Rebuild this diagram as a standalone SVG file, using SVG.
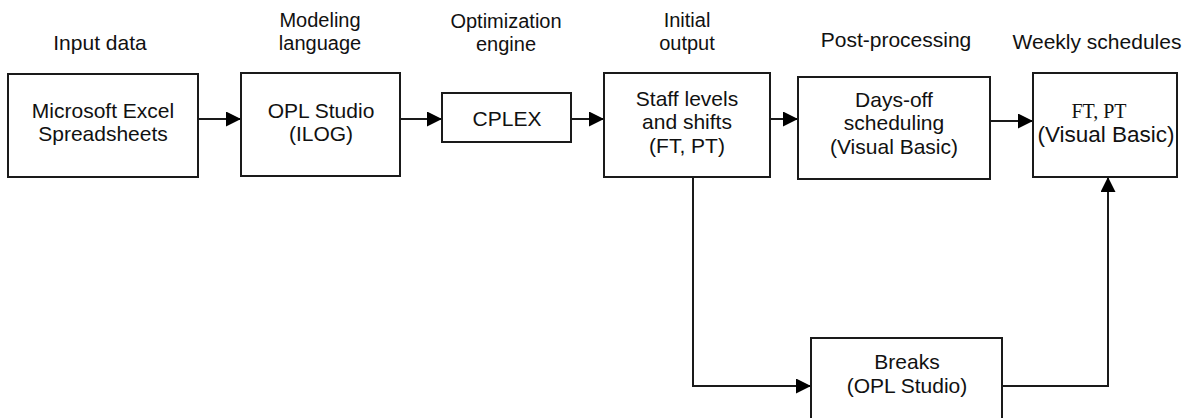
<svg xmlns="http://www.w3.org/2000/svg" width="1194" height="418" viewBox="0 0 1194 418">
<defs>
<style>
.box{fill:#fff;stroke:#1a1a1a;stroke-width:2}
.t{font-family:"Liberation Sans",Arial,sans-serif;font-size:21px;fill:#111;text-anchor:middle}
.t2{font-family:"Liberation Sans",Arial,sans-serif;font-size:20px;fill:#111;text-anchor:middle}
.s{font-family:"Liberation Serif","Times New Roman",serif;font-size:20px;fill:#111;text-anchor:middle}
.c{fill:none;stroke:#1a1a1a;stroke-width:2}
</style>
<marker id="ah" viewBox="0 0 15 15" refX="15" refY="7.5" markerWidth="15" markerHeight="15" markerUnits="userSpaceOnUse" orient="auto">
<path d="M0,0 L15,7.5 L0,15 Z" fill="#000"/>
</marker>
</defs>
<rect width="1194" height="418" fill="#fff"/>
<g id="titles">
<text class="t" x="100" y="50">Input data</text>
<text class="t2" x="320" y="27">Modeling</text>
<text class="t2" x="320" y="50">language</text>
<text class="t2" x="506" y="28">Optimization</text>
<text class="t2" x="506" y="51">engine</text>
<text class="t2" x="687" y="27">Initial</text>
<text class="t2" x="687" y="50">output</text>
<text class="t" x="896" y="47">Post-processing</text>
<text class="t" x="1097" y="49">Weekly schedules</text>
</g>
<g id="connectors">
<line class="c" x1="198" y1="119" x2="241" y2="119" marker-end="url(#ah)"/>
<line class="c" x1="400" y1="119" x2="442" y2="119" marker-end="url(#ah)"/>
<line class="c" x1="571" y1="119" x2="604" y2="119" marker-end="url(#ah)"/>
<line class="c" x1="770" y1="119" x2="798" y2="119" marker-end="url(#ah)"/>
<line class="c" x1="990" y1="121" x2="1033" y2="121" marker-end="url(#ah)"/>
<polyline class="c" points="693,177 693,386 811,386" marker-end="url(#ah)"/>
<polyline class="c" points="1002,386 1108,386 1108,177" marker-end="url(#ah)"/>
</g>
<g id="excel">
<rect class="box" x="8" y="74" width="190" height="103"/>
<text class="t" x="103" y="118">Microsoft Excel</text>
<text class="t" x="103" y="141">Spreadsheets</text>
</g>
<g id="opl">
<rect class="box" x="241" y="73" width="159" height="103"/>
<text class="t" x="321" y="118">OPL Studio</text>
<text class="t" x="321" y="141">(ILOG)</text>
</g>
<g id="cplex">
<rect class="box" x="442" y="93" width="129" height="49"/>
<text class="t" x="507" y="126">CPLEX</text>
</g>
<g id="staff">
<rect class="box" x="604" y="73" width="166" height="104"/>
<text class="t" x="687" y="106">Staff levels</text>
<text class="t" x="687" y="129">and shifts</text>
<text class="t" x="687" y="153">(FT, PT)</text>
</g>
<g id="daysoff">
<rect class="box" x="798" y="77" width="192" height="102"/>
<text class="t" x="894" y="107">Days-off</text>
<text class="t" x="894" y="130">scheduling</text>
<text class="t" x="894" y="154">(Visual Basic)</text>
</g>
<g id="weekly">
<rect class="box" x="1033" y="73" width="144" height="104"/>
<text class="s" x="1099" y="118">FT, PT</text>
<text class="t" x="1106" y="142" style="font-size:22.5px">(Visual Basic)</text>
</g>
<g id="breaks">
<rect class="box" x="811" y="338" width="191" height="100"/>
<text class="t" x="907" y="369">Breaks</text>
<text class="t" x="907" y="393">(OPL Studio)</text>
</g>
</svg>
